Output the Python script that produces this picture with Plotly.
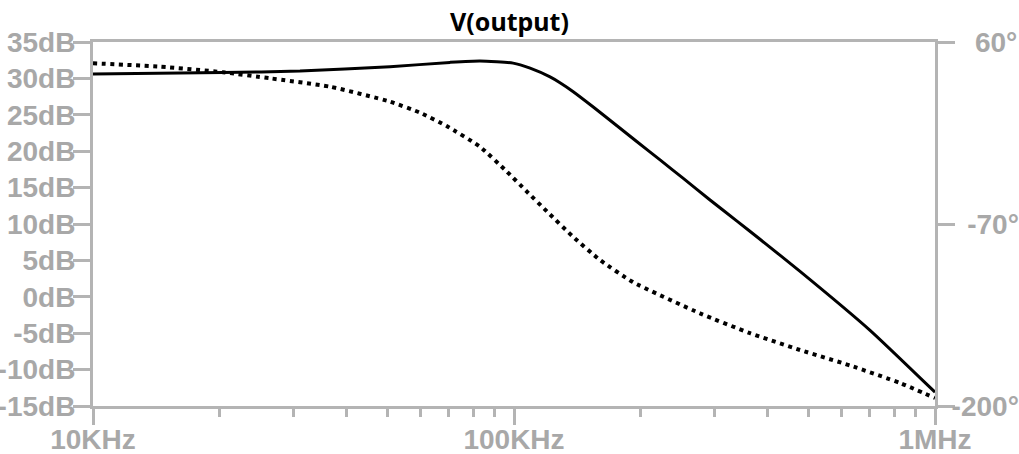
import plotly.graph_objects as go

# ---- data ----
freq_gain = [10000, 20360, 31020, 50760, 70470, 83000, 99500, 109200, 121800, 128600,
             138000, 154000, 175600, 196000, 222300, 252000, 292200, 338600, 384000,
             478000, 701000, 1000000]
gain_db = [30.6, 30.8, 31.0, 31.6, 32.2, 32.4, 32.1, 31.4, 30.2, 29.4,
           28.2, 26.1, 23.5, 21.3, 18.8, 16.3, 13.3, 10.4, 7.9,
           3.5, -4.6, -13.1]

freq_phase = [10000, 14420, 20360, 26300, 36530, 50760, 59800, 69200, 83000, 96200,
              107300, 119800, 138000, 160000, 191600, 276500, 363700, 478000,
              627700, 825000, 1000000]
phase_deg = [44.8, 42.4, 38.4, 34.1, 28.1, 17.4, 9.5, 0.0, -14.8, -32.6,
             -46.9, -61.1, -79.0, -95.7, -111.5, -133.8, -148.0, -160.0,
             -171.0, -183.5, -194.3]

db_ticks = [-15, -10, -5, 0, 5, 10, 15, 20, 25, 30, 35]
db_labels = [f"{v}dB" for v in db_ticks]
deg_ticks = [-200, -70, 60]
deg_labels = ["-200°", "\u2007-70°", "\u2007\u200860°"]
x_ticks = [1e4, 1e5, 1e6]
x_labels = ["10KHz", "100KHz", "1MHz"]
x_minor = [2e4, 3e4, 4e4, 5e4, 6e4, 7e4, 8e4, 9e4, 2e5, 3e5, 4e5, 5e5, 6e5, 7e5, 8e5, 9e5]

GRAY = "#b4b4b4"
TXT = "#a8a8a8"
tfont = dict(family="Liberation Sans", size=28, color=TXT, weight="bold")

fig = go.Figure()
fig.add_trace(go.Scatter(x=freq_gain, y=gain_db, mode="lines",
                         line=dict(color="black", width=3, shape="spline", smoothing=0.5),
                         showlegend=False, yaxis="y"))
fig.add_trace(go.Scatter(x=freq_phase, y=phase_deg, mode="lines",
                         line=dict(color="black", width=4, dash="4px,4.6px",
                                   shape="spline", smoothing=0.5),
                         showlegend=False, yaxis="y2"))

fig.update_layout(
    template="none",
    width=1019, height=454,
    margin=dict(l=93, r=84, t=42, b=48),
    paper_bgcolor="white", plot_bgcolor="white",
    title=dict(text="V(output)", x=0.5, xanchor="center", y=1 - 22 / 454, yanchor="middle",
               yref="container",
               font=dict(family="Noto Sans", size=25, color="black", weight="bold")),
    xaxis=dict(type="log", range=[4, 6], showgrid=False, zeroline=False,
               showline=True, linecolor=GRAY, linewidth=3, mirror=True,
               ticks="outside", ticklen=16, tickwidth=3, tickcolor=GRAY,
               tickvals=x_ticks, ticktext=x_labels, tickfont=tfont,
               ticklabelstandoff=-10,
               minor=dict(ticks="outside", ticklen=8, tickwidth=3, tickcolor=GRAY,
                          tickvals=x_minor, showgrid=False),
               automargin=False),
    yaxis=dict(range=[-15, 35], showgrid=False, zeroline=False,
               showline=True, linecolor=GRAY, linewidth=3,
               ticks="outside", ticklen=17, tickwidth=3, tickcolor=GRAY,
               tickvals=db_ticks, ticktext=db_labels, tickfont=tfont,
               ticklabelstandoff=-8,
               automargin=False),
    yaxis2=dict(range=[-200, 60], overlaying="y", side="right", showgrid=False,
                zeroline=False, showline=True, linecolor=GRAY, linewidth=3,
                ticks="outside", ticklen=17, tickwidth=3, tickcolor=GRAY,
                tickvals=deg_ticks, ticktext=deg_labels, tickfont=tfont,
                ticklabelstandoff=-9,
                automargin=False),
)

fig.write_html("out.html", config={"displayModeBar": False},
               post_script="document.body.style.margin='0';document.body.style.overflow='hidden';")
